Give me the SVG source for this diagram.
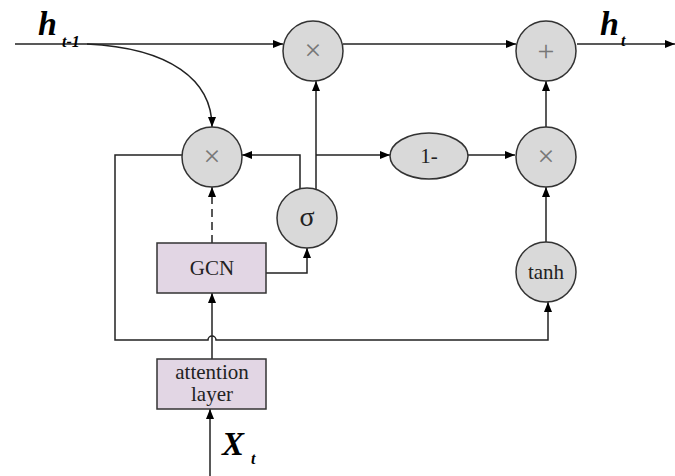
<svg xmlns="http://www.w3.org/2000/svg" width="675" height="476" viewBox="0 0 675 476">
<style>
.c{fill:#d9d9d9;stroke:#333;stroke-width:1.5}
.r{fill:#e2d6e4;stroke:#333;stroke-width:1.5}
.l{fill:none;stroke:#222;stroke-width:1.5}
.t{font-size:21px;fill:#222;text-anchor:middle}
.op{font-size:30px;fill:#777;text-anchor:middle}
.lab{font-weight:bold;font-style:italic;fill:#000}
</style>
<defs>
<marker id="a" viewBox="0 0 10 8" refX="10" refY="4" markerWidth="10" markerHeight="8" markerUnits="userSpaceOnUse" orient="auto">
<path d="M0,0 L10,4 L0,8 z" fill="#000"/>
</marker>
</defs>
<g id="connectors">
<path class="l" d="M15,44 H283" marker-end="url(#a)"/>
<path class="l" d="M87,44 C170,48 212,80 212,127" marker-end="url(#a)"/>
<path class="l" d="M343,44 H516" marker-end="url(#a)"/>
<path class="l" d="M577,44 H675" marker-end="url(#a)"/>
<path class="l" d="M182,155 H115 V340 H208 A4,4 0 0 1 216,340 H548 V302" marker-end="url(#a)"/>
<path class="l" d="M300,189 V155 H242" marker-end="url(#a)"/>
<path class="l" d="M316,189 V81" marker-end="url(#a)"/>
<path class="l" d="M316,155 H390" marker-end="url(#a)"/>
<path class="l" d="M468,155 H515" marker-end="url(#a)"/>
<path class="l" d="M546,127 V81" marker-end="url(#a)"/>
<path class="l" d="M546,242 V187" marker-end="url(#a)"/>
<path class="l" d="M212,243 V187" stroke-dasharray="8,5" marker-end="url(#a)"/>
<path class="l" d="M266,273 H307 V248" marker-end="url(#a)"/>
<path class="l" d="M212,359 V293" marker-end="url(#a)"/>
<path class="l" d="M210,476 V409" marker-end="url(#a)"/>
</g>
<g font-family="'Liberation Serif','Times New Roman','DejaVu Serif',serif">
<g id="mul_top"><circle class="c" cx="313" cy="51" r="30"/><text class="op" x="313" y="60">×</text></g>
<g id="mul_left"><circle class="c" cx="212" cy="157" r="30"/><text class="op" x="212" y="166">×</text></g>
<g id="plus"><circle class="c" cx="546" cy="51" r="30"/><text class="op" x="546" y="61">+</text></g>
<g id="mul_right"><circle class="c" cx="546" cy="157" r="30"/><text class="op" x="546" y="166">×</text></g>
<g id="one_minus"><ellipse class="c" cx="429" cy="156" rx="39" ry="23"/><text class="t" x="429" y="163">1-</text></g>
<g id="sigma"><circle class="c" cx="307" cy="218" r="30"/><text class="t" x="307" y="226" style="font-size:28px">σ</text></g>
<g id="tanh"><circle class="c" cx="546" cy="272" r="30"/><text class="t" x="546" y="279">tanh</text></g>
<g id="gcn"><rect class="r" x="157" y="243" width="109" height="50"/><text class="t" x="212" y="275">GCN</text></g>
<g id="attention"><rect class="r" x="157" y="359" width="109" height="50"/><text class="t" x="212" y="379">attention</text><text class="t" x="212" y="401">layer</text></g>
<g id="labels">
<text class="lab" x="38" y="35" font-size="34">h</text><text class="lab" x="62" y="47" font-size="16">t-1</text>
<text class="lab" x="600" y="35" font-size="34">h</text><text class="lab" x="621" y="46" font-size="16">t</text>
<text class="lab" x="222" y="455" font-size="33">X</text><text class="lab" x="251" y="464" font-size="16">t</text>
</g>
</g>
</svg>
